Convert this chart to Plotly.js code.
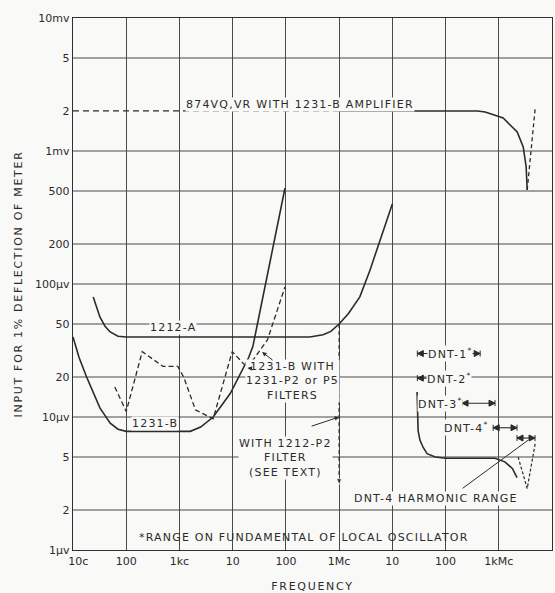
<!DOCTYPE html>
<html>
<head>
<meta charset="utf-8">
<script src="https://cdn.plot.ly/plotly-3.0.1.min.js"></script>
<style>
  html, body { margin: 0; padding: 0; background: #f9f9f7; }
  #chart { width: 555px; height: 593px; }
  .annotation-text { letter-spacing: 1.2px; }
  .xtitle, .ytitle { letter-spacing: 1.7px; }
</style>
</head>
<body>
<div id="chart"></div>
<script>
// Frequency axis (cycles per second) and input-level axis (microvolts)
const freqTicks  = [1e1, 1e2, 1e3, 1e4, 1e5, 1e6, 1e7, 1e8, 1e9, 1e10];
const freqLabels = ['\u00a0\u00a0\u00a010c', '100', '1kc', '10', '100', '1Mc', '10', '100', '1kMc', '10'];
const levelTicks  = [1, 2, 5, 10, 20, 50, 100, 200, 500, 1000, 2000, 5000, 10000];
const levelLabels = ['1\u00b5v', '2', '5', '10\u00b5v', '20', '50', '100\u00b5v', '200', '500', '1mv', '2', '5', '10mv'];
// horizontal rules; the 2 mV rule is left out because the 874VQ,VR curve runs along it
const gridLevels = [2, 5, 10, 20, 50, 100, 200, 500, 1000, 5000];

// 1231-B amplifier alone
const amp1231B_f = [10, 13, 18, 25, 32, 50, 70, 100, 1600, 2500, 4300, 9000, 20000, 24000, 45000, 96000];
const amp1231B_v = [40, 28, 20, 14.5, 11.7, 9.0, 8.1, 7.8, 7.8, 8.4, 10, 15, 28, 34, 120, 525];

// 1231-B with 1231-P2 or P5 filters
const filt1231_f = [61, 100, 200, 490, 930, 1200, 2000, 4300, 9800, 19000, 45000, 96000];
const filt1231_v = [16.8, 11, 31, 24, 24, 20, 11.3, 9.7, 31, 23.4, 38, 95];

// 1212-A
const unit1212A_f = [24, 28, 32, 40, 50, 70, 100, 280000, 500000, 700000, 1e6, 1.5e6, 2.45e6, 3.8e6, 5.9e6, 1e7];
const unit1212A_v = [80, 66, 56.5, 48, 43.6, 40.5, 40, 40, 41.5, 44, 50, 60, 80, 127, 214, 400];

// 1212-A with 1212-P2 filter at 1 Mc
const filt1212_f = [1e6, 1e6];
const filt1212_v = [50, 3.1];

// 874VQ,VR with 1231-B amplifier
const vq874Low_f  = [10, 1e6];
const vq874Low_v  = [2000, 2000];
const vq874_f     = [1e6, 4e8, 5.55e8, 1.21e9, 2.22e9, 2.88e9, 3.27e9, 3.42e9];
const vq874_v     = [2000, 2000, 1963, 1770, 1390, 1072, 758, 509];
const vq874Ret_f  = [3.42e9, 4.83e9];
const vq874Ret_v  = [509, 2100];

// DNT-4 detector
const dnt4_f = [2.92e7, 3.05e7, 3.3e7, 3.8e7, 4.5e7, 6.4e7, 1e8, 8.5e8, 1.3e9, 1.8e9, 2.2e9];
const dnt4_v = [15.4, 7.9, 6.7, 5.9, 5.3, 5.0, 4.9, 4.9, 4.6, 4.1, 3.5];
const dnt4Harm_f = [2.31e9, 3.42e9, 4.83e9];
const dnt4Harm_v = [5.0, 2.9, 6.3];

// Local-oscillator fundamental ranges
const dnt1Range = [2.95e7, 4.47e8], dnt1Level = 30;
const dnt2Range = [2.95e7, 2.66e8], dnt2Level = 19.6;
const dnt3Range = [2.04e8, 8.5e8],  dnt3Level = 12.7;
const dnt4Range = [7.85e8, 2.2e9],  dnt4Level = 8.3;
const harmRange = [2.2e9, 4.8e9],   harmLevel = 6.95;

const INK = '#2b2b2b';
const GRID = '#4a4a4a';
const PAPER = '#f9f9f7';

function curve(x, y, dash, width) {
  return { x, y, type: 'scatter', mode: 'lines',
           line: { color: INK, width: width || 1.6, dash: dash || 'solid' },
           hoverinfo: 'skip', showlegend: false };
}
function bracket(range, level) {
  return { x: range, y: [level, level], type: 'scatter', mode: 'lines+markers',
           line: { color: INK, width: 1.1 },
           marker: { symbol: ['arrow-bar-left', 'arrow-bar-right'], size: 6, color: INK,
                     line: { color: INK, width: 1 } },
           hoverinfo: 'skip', showlegend: false };
}

const traces = [
  curve(amp1231B_f, amp1231B_v),
  curve(filt1231_f, filt1231_v, '5px,3px', 1.3),
  curve(unit1212A_f, unit1212A_v),
  Object.assign(curve(filt1212_f, filt1212_v, '4px,3px', 1.2), {
    mode: 'lines+markers',
    marker: { symbol: ['circle', 'arrow-down'], size: [0, 6], color: INK }
  }),
  curve(vq874Low_f, vq874Low_v, '6px,4px', 1.3),
  curve(vq874_f, vq874_v),
  curve(vq874Ret_f, vq874Ret_v, '4px,3px', 1.3),
  curve(dnt4_f, dnt4_v),
  curve(dnt4Harm_f, dnt4Harm_v, '3px,2px', 1.2),
  bracket(dnt1Range, dnt1Level),
  bracket(dnt2Range, dnt2Level),
  bracket(dnt3Range, dnt3Level),
  bracket(dnt4Range, dnt4Level),
  bracket(harmRange, harmLevel)
];

const lg = Math.log10;
function label(text, f, v, opts) {
  return Object.assign({ text, x: lg(f), y: lg(v), xref: 'x', yref: 'y', showarrow: false,
    font: { size: 11, color: INK }, bgcolor: PAPER, borderpad: 0 }, opts || {});
}
function pointer(f, v, ax, ay, head) {
  return { text: ' ', x: lg(f), y: lg(v), xref: 'x', yref: 'y', showarrow: true,
    ax, ay, arrowhead: head === undefined ? 2 : head, arrowsize: 0.9, arrowwidth: 1,
    arrowcolor: INK, standoff: 0, font: { size: 2 } };
}

const annotations = [
  label('874VQ,VR WITH 1231-B AMPLIFIER', 1.85e5, 2250),
  label('1212-A', 760, 47),
  label('1231-B', 350, 9.0),
  label('1231-B WITH<br>1231-P2 or P5<br>FILTERS', 1.31e5, 18.7),
  label('WITH 1212-P2<br>FILTER<br>(SEE TEXT)', 9.66e4, 4.9),
  label('DNT-1<sup>*</sup>', 1.22e8, dnt1Level),
  label('DNT-2<sup>*</sup>', 1.17e8, dnt2Level),
  label('DNT-3<sup>*</sup>', 7.9e7, dnt3Level),
  label('DNT-4<sup>*</sup>', 2.44e8, dnt4Level),
  label('DNT-4 HARMONIC RANGE', 6.65e7, 2.46),
  label('*RANGE ON FUNDAMENTAL OF LOCAL OSCILLATOR', 2.2e5, 1.25, { bgcolor: 'rgba(0,0,0,0)' }),
  pointer(35700, 30.8, 13, 10),
  pointer(19000, 23.4, 7, 1),
  pointer(1e6, 10, -30, 10),
  pointer(3.57e9, 6.7, -68, 50, 0)
];

// horizontal rules across the full width of the plot
const shapes = gridLevels.map(v => ({
  type: 'line', xref: 'paper', x0: 0, x1: 1, yref: 'y', y0: v, y1: v,
  line: { color: GRID, width: 1.1 }, layer: 'below'
}));

const layout = {
  width: 555, height: 593,
  margin: { l: 73, r: 3, t: 18, b: 43 },
  paper_bgcolor: PAPER, plot_bgcolor: PAPER,
  font: { family: 'DejaVu Sans, sans-serif', size: 11, color: INK },
  showlegend: false,
  xaxis: {
    type: 'log', range: [1, 10],
    tickmode: 'array', tickvals: freqTicks, ticktext: freqLabels,
    showgrid: true, gridcolor: GRID, gridwidth: 1.1,
    showline: true, mirror: true, linecolor: '#303030', linewidth: 1.3,
    ticks: '', zeroline: false,
    title: { text: 'FREQUENCY', font: { size: 11, color: INK }, standoff: 15 }
  },
  yaxis: {
    type: 'log', range: [0, 4],
    tickmode: 'array', tickvals: levelTicks, ticktext: levelLabels,
    showgrid: false,
    showline: true, mirror: true, linecolor: '#303030', linewidth: 1.3,
    ticks: '', zeroline: false,
    title: { text: 'INPUT FOR 1% DEFLECTION OF METER', font: { size: 11, color: INK }, standoff: 10 }
  },
  shapes,
  annotations
};

Plotly.newPlot('chart', traces, layout, { staticPlot: true, displayModeBar: false });
</script>
</body>
</html>
